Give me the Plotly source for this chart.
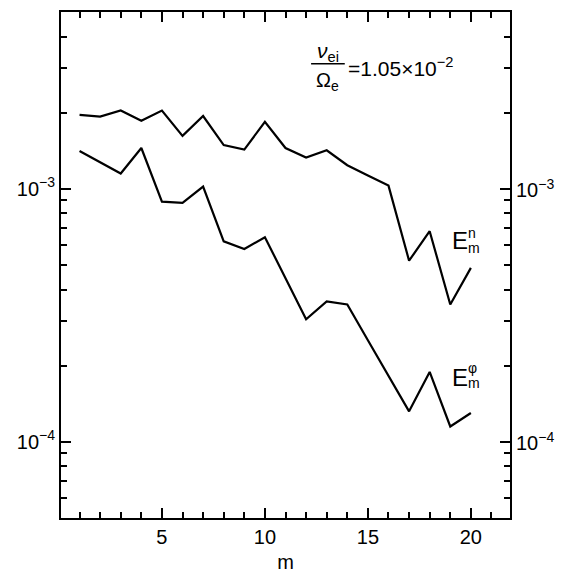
import plotly.graph_objects as go
import math

m = list(range(1, 21))
E_n = [1.96e-3, 1.93e-3, 2.04e-3, 1.86e-3, 2.04e-3, 1.62e-3, 1.94e-3, 1.49e-3, 1.43e-3, 1.84e-3,
       1.45e-3, 1.33e-3, 1.42e-3, 1.24e-3, 1.13e-3, 1.03e-3, 5.2e-4, 6.8e-4, 3.49e-4, 4.87e-4]
E_phi = [1.41e-3, 1.27e-3, 1.15e-3, 1.45e-3, 8.9e-4, 8.8e-4, 1.02e-3, 6.2e-4, 5.78e-4, 6.44e-4,
         4.43e-4, 3.05e-4, 3.59e-4, 3.49e-4, 2.52e-4, 1.83e-4, 1.32e-4, 1.89e-4, 1.15e-4, 1.30e-4]

y_major = [1e-3, 1e-4]
y_major_text = ["10<sup>−3</sup>", "10<sup>−4</sup>"]
y_minor = [4e-3, 3e-3, 2e-3, 9e-4, 8e-4, 7e-4, 6e-4, 5e-4, 4e-4, 3e-4, 2e-4,
           9e-5, 8e-5, 7e-5, 6e-5]
x_major = [5, 10, 15, 20]
x_minor = list(range(1, 22))

FONT = "Liberation Sans"
fig = go.Figure()
fig.add_trace(go.Scatter(x=m, y=E_n, mode="lines", line=dict(color="black", width=2.2), showlegend=False))
fig.add_trace(go.Scatter(x=m, y=E_phi, mode="lines", line=dict(color="black", width=2.2), showlegend=False))

fig.update_layout(
    width=568, height=580,
    margin=dict(l=61, r=58, t=10, b=62),
    paper_bgcolor="white", plot_bgcolor="white",
    font=dict(family=FONT, color="black", size=20),
    xaxis=dict(range=[0.1, 21.9], showgrid=False, zeroline=False,
               showline=True, linecolor="black", linewidth=2, mirror="ticks",
               ticks="inside", ticklen=10, tickwidth=1.5, tickcolor="black",
               tickmode="array", tickvals=x_major, ticktext=[str(v) for v in x_major],
               tickfont=dict(size=20),
               minor=dict(ticks="inside", ticklen=6, tickwidth=1.5, tickcolor="black",
                          tickmode="array", tickvals=x_minor),
               title=dict(text="m", font=dict(size=20), standoff=8)),
    yaxis=dict(type="log", range=[math.log10(5e-5), math.log10(5e-3)],
               showgrid=False, zeroline=False,
               showline=True, linecolor="black", linewidth=2, mirror="ticks",
               ticks="inside", ticklen=10, tickwidth=1.5, tickcolor="black",
               tickmode="array", tickvals=y_major, ticktext=y_major_text,
               tickfont=dict(size=20),
               minor=dict(ticks="inside", ticklen=6, tickwidth=1.5, tickcolor="black",
                          tickmode="array", tickvals=y_minor)),
)

for v, t in zip(y_major, y_major_text):
    fig.add_annotation(x=1.0, xref="paper", y=math.log10(v), yref="y", text=t,
                       showarrow=False, xanchor="left", xshift=4, font=dict(size=20))

def label(x_e, y_e, y_sup, y_sub, sup):
    fig.add_annotation(x=x_e, y=y_e, text="E", showarrow=False, xanchor="left",
                       font=dict(size=24))
    fig.add_annotation(x=x_e + 0.78, y=y_sup, text=sup, showarrow=False, xanchor="left",
                       font=dict(size=14))
    fig.add_annotation(x=x_e + 0.78, y=y_sub, text="m", showarrow=False, xanchor="left",
                       font=dict(size=14))

label(19.0, -3.203, -3.176, -3.232, "n")
label(19.0, -3.746, -3.708, -3.768, "φ")

fig.add_annotation(x=13.05, y=-2.458, text="<i>ν</i><sub>ei</sub>",
                   showarrow=False, xanchor="center", font=dict(size=21))
fig.add_annotation(x=13.05, y=-2.574, text="Ω<sub>e</sub>",
                   showarrow=False, xanchor="center", font=dict(size=20))
fig.add_shape(type="line", xref="paper", yref="paper", x0=0.557, x1=0.632, y0=0.8976, y1=0.8976,
              line=dict(color="black", width=1.5))
fig.add_annotation(x=13.95, y=-2.520, text="=1.05×10<sup>−2</sup>",
                   showarrow=False, xanchor="left", font=dict(size=21))

fig.write_html("out.html")
